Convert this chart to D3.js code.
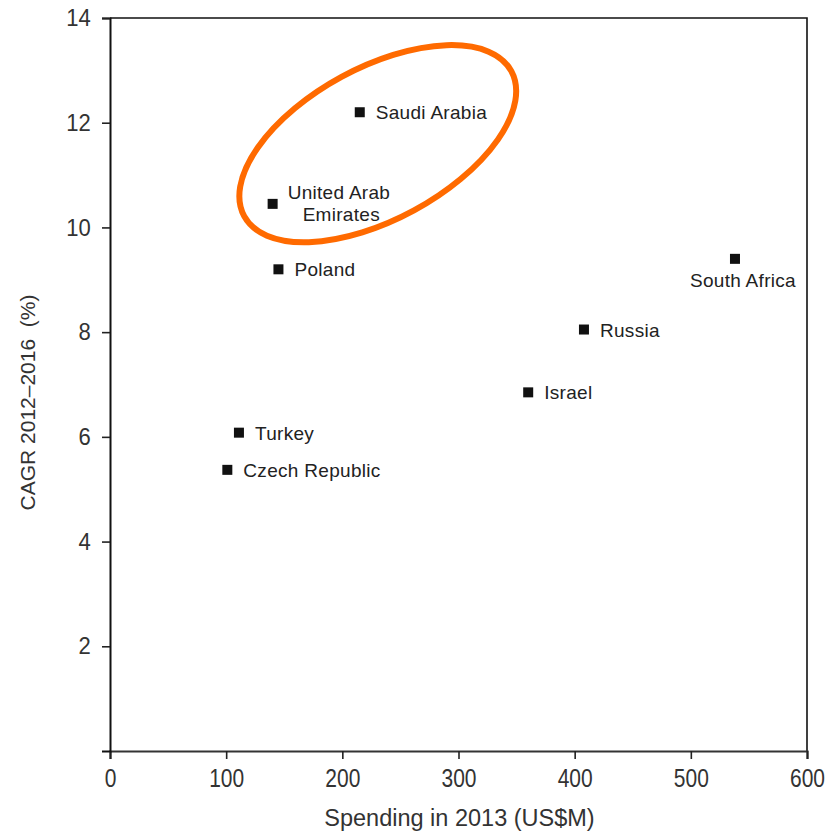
<!DOCTYPE html>
<html>
<head>
<meta charset="utf-8">
<script src="https://cdn.jsdelivr.net/npm/d3@7"></script>
<style>
  body { margin: 0; background: #fff; }
  svg { display: block; }
  text { font-family: "Liberation Sans", Arial, sans-serif; }
</style>
</head>
<body>
<div id="chart"></div>
<script>
// data
const countries = ['Saudi Arabia', 'United Arab Emirates', 'Poland', 'South Africa', 'Russia', 'Israel', 'Turkey', 'Czech Republic'];
const spending = [215, 140, 145, 538, 408, 360, 111, 101];
const cagr = [12.2, 10.45, 9.2, 9.4, 8.05, 6.85, 6.08, 5.37];
const xTicks = [0, 100, 200, 300, 400, 500, 600];
const yTicks = [2, 4, 6, 8, 10, 12, 14];
// centre of the orange highlight, in data units
const highlightCentre = [230.5, 11.6];

const width = 829, height = 834;
const margin = { top: 18, right: 22, bottom: 83, left: 110 };

const svg = d3.select('#chart').append('svg')
    .attr('width', width)
    .attr('height', height);

const x = d3.scaleLinear().domain([0, 600]).range([margin.left, width - margin.right]);
const y = d3.scaleLinear().domain([0, 14]).range([height - margin.bottom, margin.top]);

// frame (top + right)
svg.append('path')
    .attr('d', `M${x(0)},${y(14)}H${x(600)}V${y(0)}`)
    .attr('fill', 'none')
    .attr('stroke', '#111')
    .attr('stroke-width', 1.6);

// x axis
const xAxis = svg.append('g')
    .attr('transform', `translate(0,${y(0)})`)
    .call(d3.axisBottom(x).tickValues(xTicks).tickSize(8).tickSizeOuter(8).tickPadding(10));
xAxis.select('.domain').attr('stroke', '#333').attr('stroke-width', 2.2);
xAxis.selectAll('.tick line').attr('stroke', '#222').attr('stroke-width', 1.6);
xAxis.selectAll('.tick text')
    .attr('font-size', 25)
    .attr('fill', '#333')
    .attr('dy', '0.72em')
    .attr('transform', 'scale(0.84,1)');

// y axis
const yAxis = svg.append('g')
    .attr('transform', `translate(${x(0)},0)`)
    .call(d3.axisLeft(y).tickValues(yTicks).tickSize(8).tickPadding(13).tickSizeOuter(8));
yAxis.select('.domain').attr('stroke', '#111').attr('stroke-width', 2);
yAxis.selectAll('.tick line').attr('stroke', '#222').attr('stroke-width', 1.6);
yAxis.selectAll('.tick text')
    .attr('font-size', 24)
    .attr('fill', '#333')
    .attr('transform', 'scale(0.92,1)');

// axis titles
svg.append('text')
    .attr('x', (x(0) + x(600)) / 2 + 1)
    .attr('y', height - 8)
    .attr('text-anchor', 'middle')
    .attr('font-size', 23.5)
    .attr('fill', '#333')
    .text('Spending in 2013 (US$M)');

svg.append('text')
    .attr('transform', `translate(35,${(y(0) + y(14)) / 2 + 18}) rotate(-90)`)
    .attr('text-anchor', 'middle')
    .attr('font-size', 21)
    .attr('fill', '#333')
    .style('white-space', 'pre')
    .text('CAGR 2012\u20132016  (%)');

// points
const points = countries.map((c, i) => ({ name: c, sx: spending[i], cy: cagr[i] }));
const size = 10;

svg.selectAll('rect.pt')
    .data(points)
    .enter().append('rect')
    .attr('class', 'pt')
    .attr('x', d => x(d.sx) - size / 2)
    .attr('y', d => y(d.cy) - size / 2)
    .attr('width', size)
    .attr('height', size)
    .attr('fill', '#111');

// labels
points.forEach(d => {
    const px = x(d.sx), py = y(d.cy);
    const t = svg.append('text')
        .attr('font-size', 19)
        .attr('fill', '#222')
        .attr('letter-spacing', 0.3);
    if (d.name === 'South Africa') {
        t.attr('x', px + 8).attr('y', py + 28).attr('text-anchor', 'middle').text(d.name);
    } else if (d.name === 'United Arab Emirates') {
        t.append('tspan').attr('x', px + 15).attr('y', py - 5).text('United Arab');
        t.append('tspan').attr('x', px + 30).attr('y', py + 17).text('Emirates');
    } else {
        t.attr('x', px + 16).attr('y', py + 7).text(d.name);
    }
});

// highlight ellipse round Saudi Arabia and the UAE
const cx = x(highlightCentre[0]);
const cyy = y(highlightCentre[1]);
svg.append('ellipse')
    .attr('cx', cx)
    .attr('cy', cyy)
    .attr('rx', 152)
    .attr('ry', 76)
    .attr('transform', `rotate(-28.5,${cx},${cyy})`)
    .attr('fill', 'none')
    .attr('stroke', '#ff6a00')
    .attr('stroke-width', 6);
</script>
</body>
</html>
